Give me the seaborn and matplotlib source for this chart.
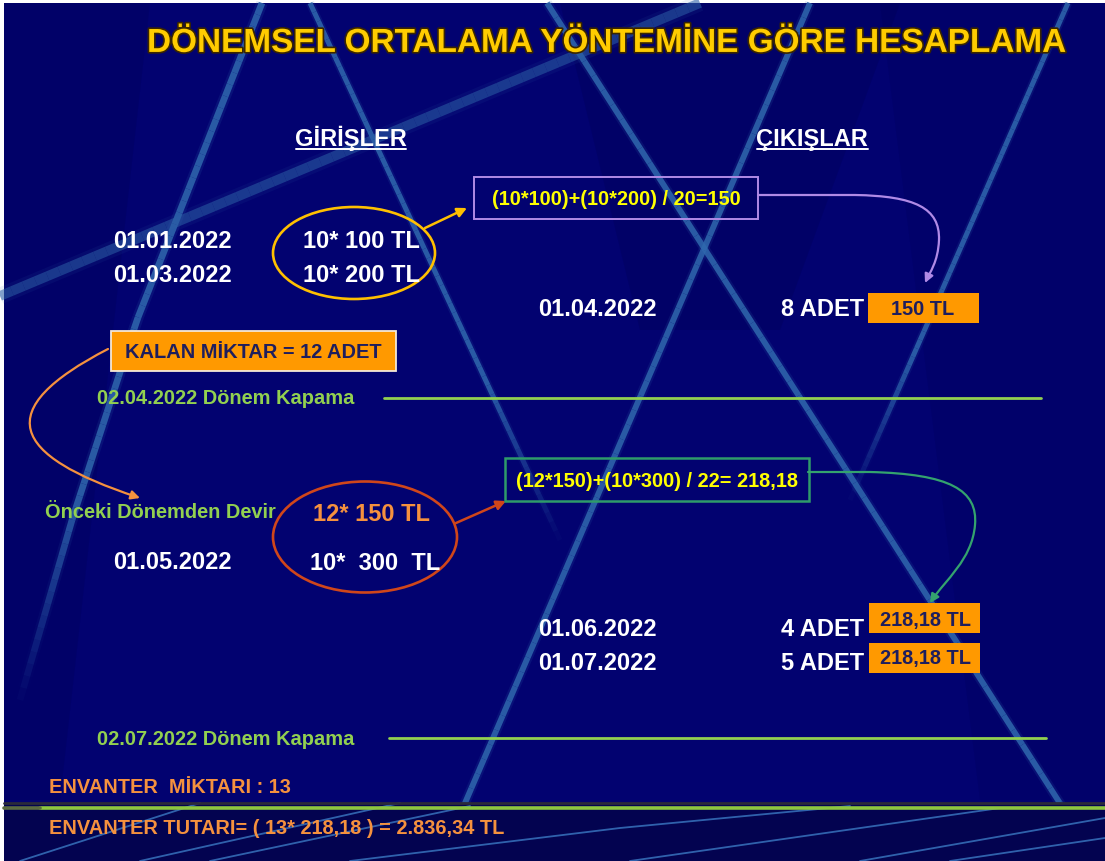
import numpy as np
import matplotlib
matplotlib.use("Agg")
import matplotlib.pyplot as plt
import seaborn as sns
from matplotlib.patches import Rectangle, Ellipse, FancyArrowPatch
from matplotlib.path import Path
import matplotlib.patheffects as pe

# ---------------- data (slide content) ----------------
baslik = "DÖNEMSEL ORTALAMA YÖNTEMİNE GÖRE HESAPLAMA"
sutunlar = ["GİRİŞLER", "ÇIKIŞLAR"]
giris_tarih = ["01.01.2022", "01.03.2022", "01.05.2022"]
giris_tutar = ["10* 100 TL", "10* 200 TL", "10*  300  TL"]
devir_etiket = "Önceki Dönemden Devir"
devir_tutar = "12* 150 TL"
cikis_tarih = ["01.04.2022", "01.06.2022", "01.07.2022"]
cikis_adet = ["8 ADET", "4 ADET", "5 ADET"]
cikis_fiyat = ["150 TL", "218,18 TL", "218,18 TL"]
formuller = ["(10*100)+(10*200) / 20=150", "(12*150)+(10*300) / 22= 218,18"]
kapama = ["02.04.2022 Dönem Kapama", "02.07.2022 Dönem Kapama"]
kalan = "KALAN MİKTAR = 12 ADET"
envanter = ["ENVANTER  MİKTARI : 13",
            "ENVANTER TUTARI= ( 13* 218,18 ) = 2.836,34 TL"]

# ---------------- style ----------------
sns.set_theme(style="white")
plt.rcParams["font.family"] = ["Liberation Sans", "DejaVu Sans"]

W, H = 1105, 861
BG = "#020270"
WHITE = "#FFFFFF"
GREEN = "#92D050"
ORANGE_T = "#F5913E"
BOX = "#FF9900"
NAVY = "#1E1E5E"
YEL = "#FFFF00"
GOLD = "#FFC000"
PURPLE = "#B08AE6"
TEAL = "#2E9B6A"
RED = "#D0461A"
STREAK = "#2F68AE"

fig = plt.figure(figsize=(W / 100, H / 100), dpi=100, facecolor="white")
ax = fig.add_axes([0, 0, 1, 1])
ax.set_xlim(0, W)
ax.set_ylim(H, 0)
ax.axis("off")

# background
ax.add_patch(Rectangle((4, 3), W, H, facecolor=BG, edgecolor="none", zorder=0))
# subtle darker regions
for poly, a in [([(560, 3), (900, 3), (780, 330), (640, 330)], 0.18),
                ([(4, 3), (150, 3), (60, 800), (4, 800)], 0.15),
                ([(880, 3), (1105, 3), (1105, 800), (980, 800)], 0.12)]:
    ax.add_patch(plt.Polygon(poly, facecolor="#000040", alpha=a, edgecolor="none", zorder=0.5))


def streak(xs, ys, lw, alpha=0.85, fade_end=False, color=STREAK):
    xs = np.asarray(xs, float)
    ys = np.asarray(ys, float)
    # resample along the polyline so that the end can fade out
    seg = np.hypot(np.diff(xs), np.diff(ys))
    s = np.concatenate([[0], np.cumsum(seg)])
    t = np.linspace(0, s[-1], 60)
    px = np.interp(t, s, xs)
    py = np.interp(t, s, ys)
    for k in range(len(t) - 1):
        f = t[k] / s[-1]
        a = alpha * (1 - max(0, (f - 0.7) / 0.3)) if fade_end else alpha
        ax.plot(px[k:k + 2], py[k:k + 2], color=color, lw=lw * 1.7, alpha=a * 0.18,
                solid_capstyle="butt", zorder=1)
        ax.plot(px[k:k + 2], py[k:k + 2], color=color, lw=lw, alpha=a,
                solid_capstyle="butt", zorder=1)


streak([547, 1097], [3, 861], 4.2)
streak([810, 440], [3, 861], 4.2)
streak([1068, 850], [3, 500], 3.6, fade_end=True)
streak([262, 137, 72, 20], [3, 320, 520, 700], 4.8, fade_end=True)
streak([310, 560], [3, 540], 3.6, fade_end=True)
# wide soft streak
streak([700, 0], [3, 296], 7, alpha=0.55, color="#2C5FA6")

# bottom band
ax.add_patch(Rectangle((4, 803), W, 60, facecolor="#030350", edgecolor="none", zorder=1.5))
bottom_streaks = [
    ([20, 200], [861, 803]),
    ([140, 400], [861, 803]),
    ([210, 470], [861, 806]),
    ([350, 620, 850], [861, 828, 806]),
    ([630, 1000], [861, 808]),
    ([860, 1105], [861, 818]),
    ([950, 1105], [861, 838]),
]
for xs, ys in bottom_streaks:
    ax.plot(xs, ys, color="#3F82CC", lw=1.3, alpha=0.75, zorder=1.6)
ax.plot([4, W], [803, 803], color="#2a2a3a", lw=2, zorder=1.7)
ax.plot([40, W], [808, 808], color="#8DC63F", lw=2.6, zorder=1.8)
ax.plot([4, 40], [808, 808], color="#5a6a40", lw=2.6, zorder=1.8)


def txt(x, yc, s, size, color, ha="left", z=5, **kw):
    em = size * 100 / 72
    return ax.text(x, yc + 0.358 * em, s, fontsize=size, color=color, ha=ha,
                   va="baseline", fontweight="bold", zorder=z, **kw)


# title
txt(607, 40, baslik, 24, "#FFCC00", ha="center",
    path_effects=[pe.withStroke(linewidth=2.4, foreground="#3a2600")])

# column headings
for (cx, x0, x1), s in zip([(351, 296, 406), (812, 757, 868)], sutunlar):
    txt(cx, 138, s, 17, WHITE, ha="center")
    ax.plot([x0, x1], [149, 149], color=WHITE, lw=1.4, zorder=5)

# entries (girişler)
txt(113, 240, giris_tarih[0], 17, WHITE)
txt(113, 274, giris_tarih[1], 17, WHITE)
txt(303, 240, giris_tutar[0], 17, WHITE)
txt(303, 274, giris_tutar[1], 17, WHITE)
ax.add_patch(Ellipse((354, 253), 162, 92, facecolor="none", edgecolor=GOLD, lw=1.9, zorder=4))
ax.add_patch(FancyArrowPatch((425, 228), (467, 208), arrowstyle="-|>", mutation_scale=14,
                             color=GOLD, lw=1.8, shrinkA=0, shrinkB=0, zorder=4))

# formula box 1
ax.add_patch(Rectangle((474, 177), 284, 42, facecolor="none", edgecolor=PURPLE, lw=1.4, zorder=4))
txt(616, 198, formuller[0], 14.4, YEL, ha="center")
p1 = Path([(758, 195), (855, 195), (915, 196), (940, 208), (939, 240), (938, 262), (930, 272), (925, 283)],
          [Path.MOVETO, Path.LINETO, Path.CURVE4, Path.CURVE4, Path.CURVE4,
           Path.CURVE4, Path.CURVE4, Path.CURVE4])
ax.add_patch(FancyArrowPatch(path=p1, arrowstyle="-|>", mutation_scale=13, color=PURPLE,
                             lw=1.6, zorder=4))

# first exit
txt(538, 308, cikis_tarih[0], 17, WHITE)
txt(781, 308, cikis_adet[0], 17, WHITE)
ax.add_patch(Rectangle((868, 293), 111, 30, facecolor=BOX, edgecolor="none", zorder=4))
txt(923, 307.5, cikis_fiyat[0], 14.4, NAVY, ha="center")

# kalan miktar box
ax.add_patch(Rectangle((111, 331), 285, 40, facecolor=BOX, edgecolor="#F4E8D8", lw=1.3, zorder=4))
txt(253, 350.5, kalan, 14.4, NAVY, ha="center")

# period close 1
txt(97, 397, kapama[0], 14.4, GREEN)
ax.plot([384, 1041], [398, 398], color=GREEN, lw=2.0, zorder=4)

# orange curved arrow
p2 = Path([(108, 349), (-10, 410), (10, 455), (140, 498)],
          [Path.MOVETO, Path.CURVE4, Path.CURVE4, Path.CURVE4])
ax.add_patch(FancyArrowPatch(path=p2, arrowstyle="-|>", mutation_scale=13, color=ORANGE_T,
                             lw=1.6, zorder=4))

# second period
txt(45, 511, devir_etiket, 14.4, GREEN)
txt(313, 513, devir_tutar, 17, ORANGE_T)
txt(113, 561, giris_tarih[2], 17, WHITE)
txt(310, 562, giris_tutar[2], 17, WHITE)
ax.add_patch(Ellipse((365, 537), 184, 111, facecolor="none", edgecolor=RED, lw=1.9, zorder=4))
ax.add_patch(FancyArrowPatch((456, 523), (506, 501), arrowstyle="-|>", mutation_scale=14,
                             color=RED, lw=1.8, shrinkA=0, shrinkB=0, zorder=4))

# formula box 2
ax.add_patch(Rectangle((505, 458), 304, 43, facecolor="none", edgecolor=TEAL, lw=1.8, zorder=4))
txt(657, 480, formuller[1], 14.4, YEL, ha="center")
p3 = Path([(808, 472), (870, 472), (950, 474), (978, 490), (975, 525), (972, 560), (945, 580), (930, 603)],
          [Path.MOVETO, Path.LINETO, Path.CURVE4, Path.CURVE4, Path.CURVE4,
           Path.CURVE4, Path.CURVE4, Path.CURVE4])
ax.add_patch(FancyArrowPatch(path=p3, arrowstyle="-|>", mutation_scale=13, color="#34A36E",
                             lw=1.6, zorder=4))

# exits 2 and 3
for yc, yb, yt, i in [(628, 603, 619, 1), (662, 643, 657, 2)]:
    txt(538, yc, cikis_tarih[i], 17, WHITE)
    txt(781, yc, cikis_adet[i], 17, WHITE)
    ax.add_patch(Rectangle((869, yb), 111, 30, facecolor=BOX, edgecolor="none", zorder=4))
    txt(925, yt, cikis_fiyat[i], 14.4, NAVY, ha="center")

# period close 2
txt(97, 738, kapama[1], 14.4, GREEN)
ax.plot([389, 1046], [738, 738], color=GREEN, lw=2.0, zorder=4)

# inventory
txt(49, 786, envanter[0], 14.4, ORANGE_T)
txt(49, 827, envanter[1], 14.4, ORANGE_T)

fig.savefig("out.png", dpi=100, facecolor="white")
